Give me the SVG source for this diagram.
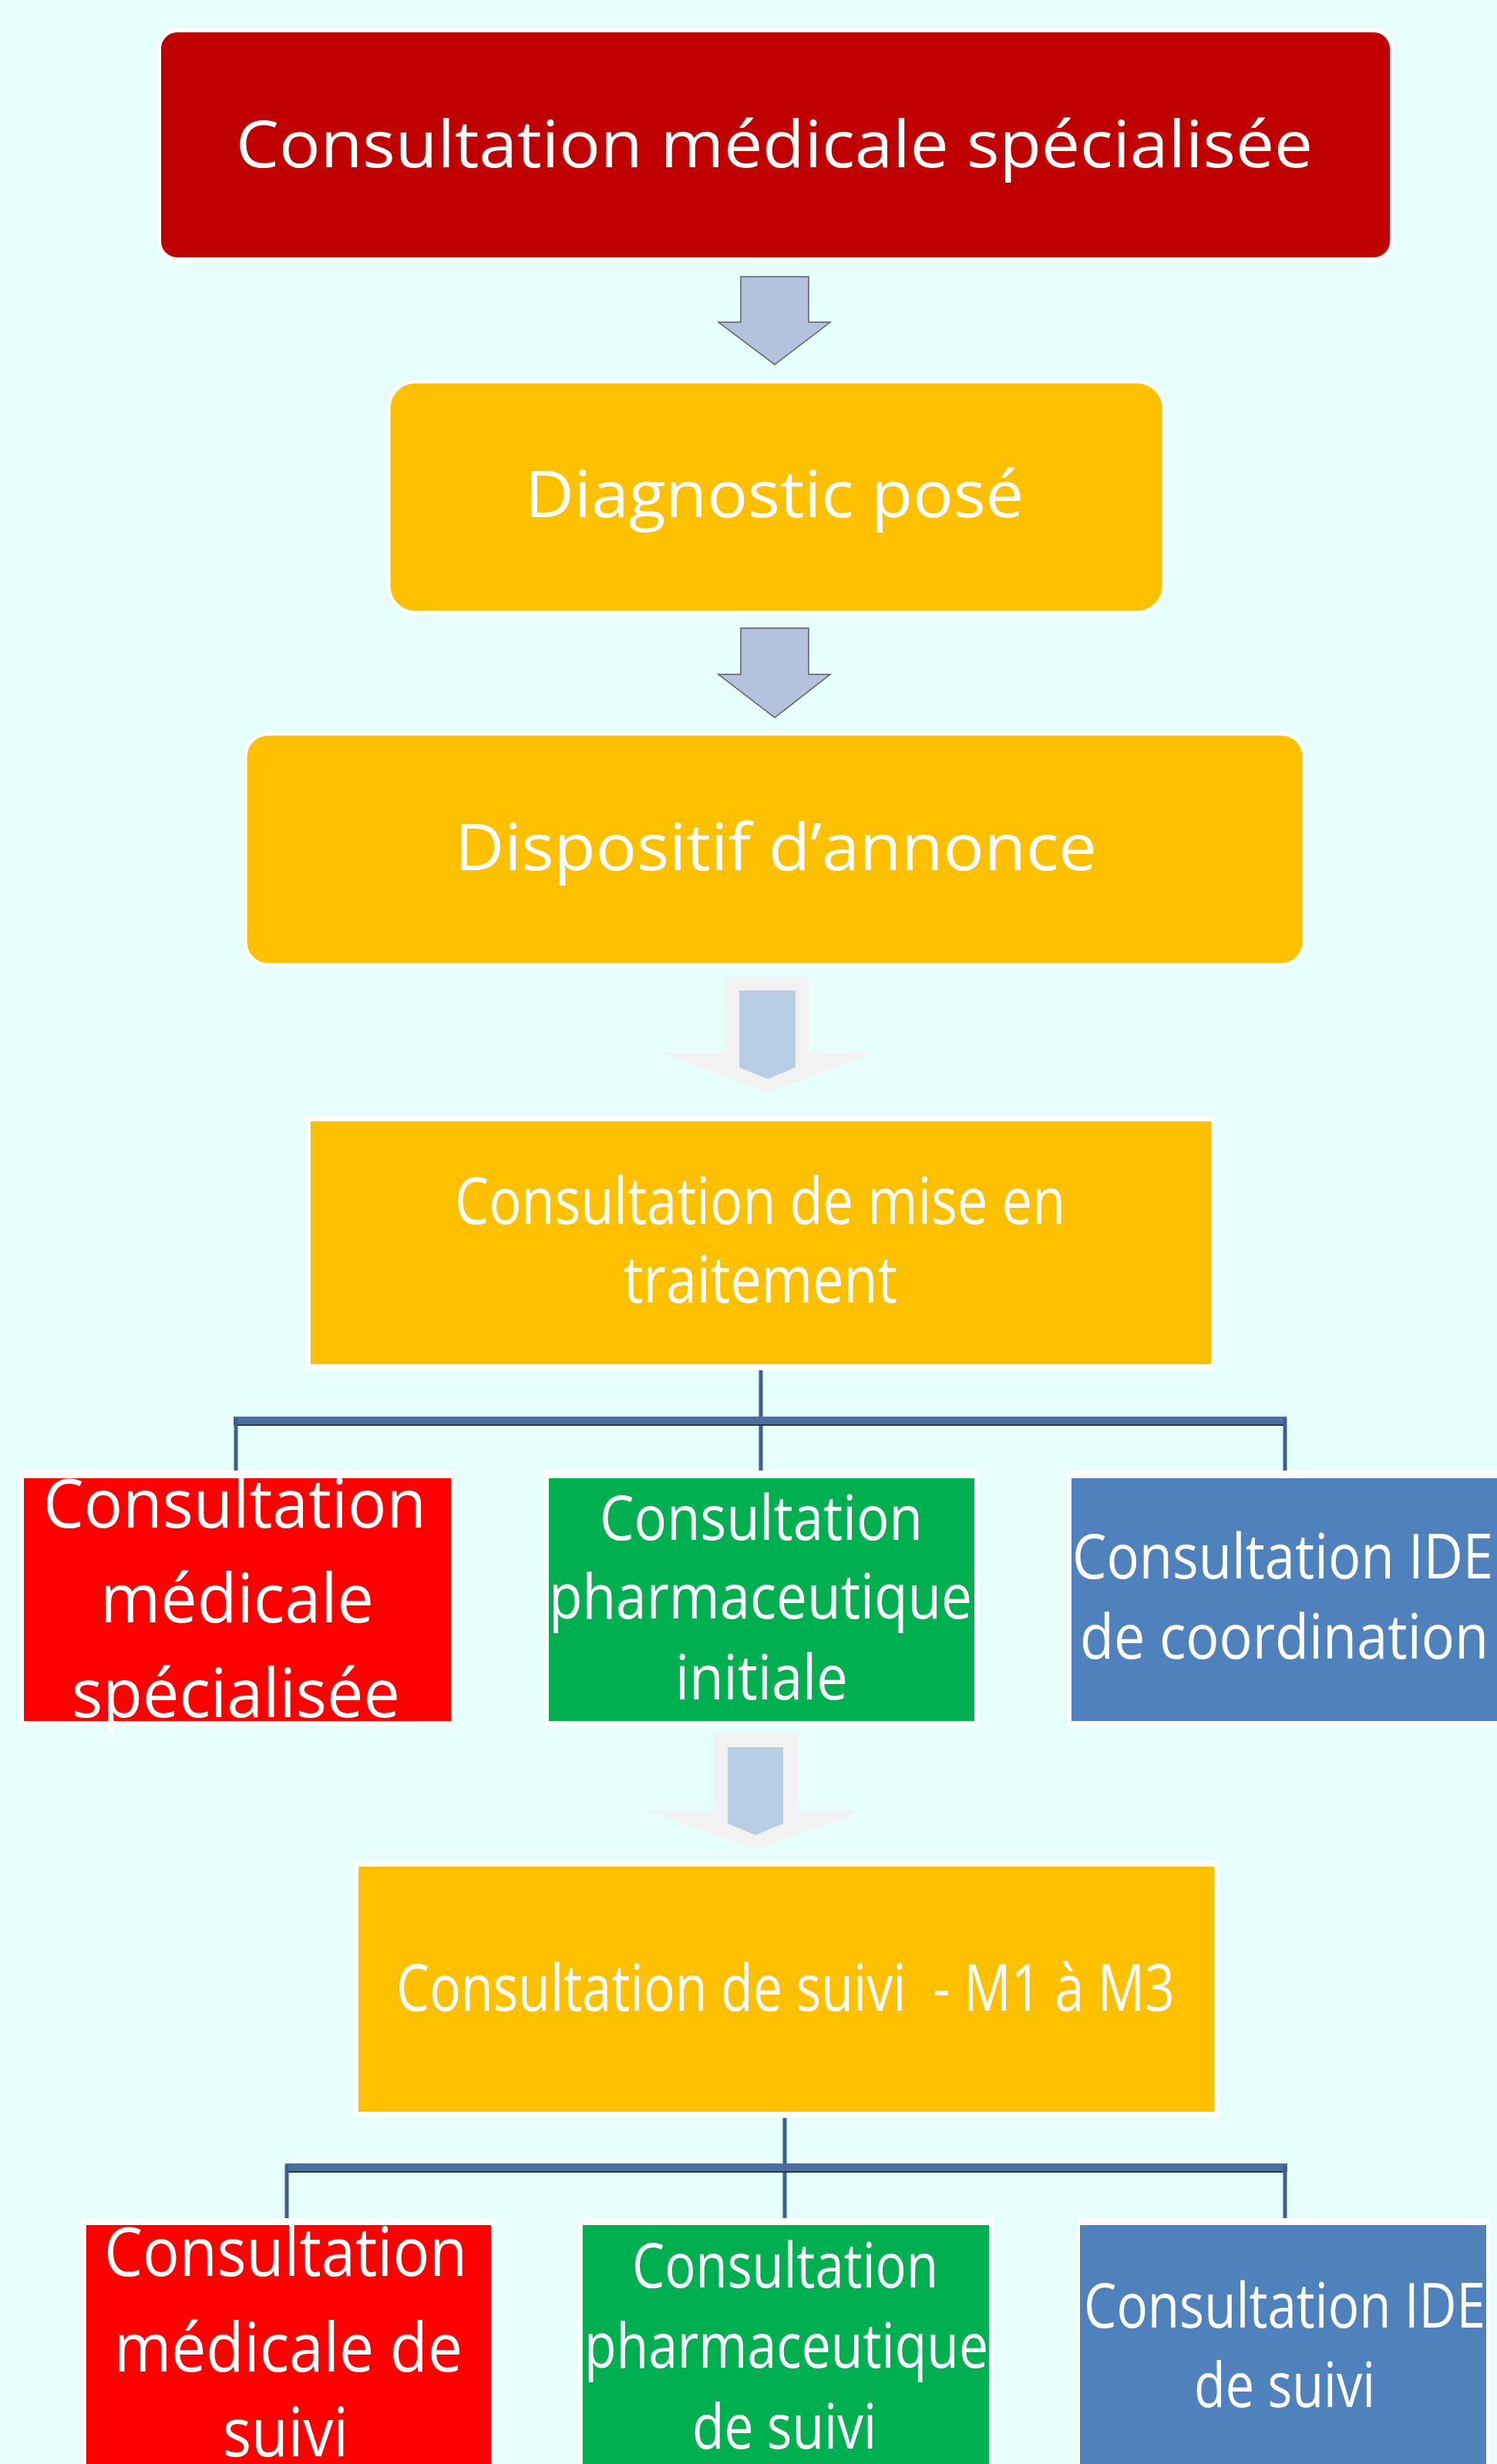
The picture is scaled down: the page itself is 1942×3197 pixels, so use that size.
<svg xmlns="http://www.w3.org/2000/svg" width="1942" height="3197" viewBox="0 0 1942 3197">
<style>
.t{font-family:"Open Sans","Noto Sans","Liberation Sans",sans-serif;fill:#FFFFFF;}
.big{font-size:85px;}
.mid{font-size:88px;}
.sm{font-size:81px;}
.wb{fill:#FFFFFF;}
.org{fill:#FFC000;}
.red{fill:#FF0000;}
.grn{fill:#00B050;}
.blu{fill:#4F81BD;}
.arr{fill:#B4C3DD;stroke:#5E5E5E;stroke-width:1.5;}
.sh{fill:#F2F2F2;}
.ai{fill:#B9CDE5;}
.ln{stroke:#3E5F8E;stroke-width:5;fill:none;}
.bar{fill:#4A6FA0;}
.bare{fill:#26384F;}
</style>
<rect x="0" y="0" width="1942" height="3197" fill="#E6FFFB"/>

<g id="connectors">
  <polygon class="arr" points="961,359 1049,359 1049,418 1077,418 1005,473 932,418 961,418"/>
  <polygon class="arr" points="961,815 1049,815 1049,875 1077,875 1005,931 932,875 961,875"/>
  <polygon class="sh" points="943,1267 1050,1267 1050,1366 1135,1366 996,1417 858,1366 943,1366"/>
  <polygon class="ai" points="959,1285 1032,1285 1032,1385 996,1400 959,1385"/>
  <polygon class="sh" points="927,2249 1035,2249 1035,2349 1119,2349 980,2400 840,2349 927,2349"/>
  <polygon class="ai" points="944,2267 1016,2267 1016,2366 980,2381 944,2366"/>
  <line class="ln" x1="987" y1="1778" x2="987" y2="1908"/>
  <rect class="bar" x="303" y="1838" width="1366" height="11"/>
  <rect class="bare" x="306" y="1848" width="1361" height="2"/>
  <line class="ln" x1="306" y1="1840" x2="306" y2="1908"/>
  <line class="ln" x1="1667" y1="1840" x2="1667" y2="1908"/>
  <line class="ln" x1="1018" y1="2748" x2="1018" y2="2878"/>
  <rect class="bar" x="370" y="2807" width="1300" height="11"/>
  <rect class="bare" x="373" y="2817" width="1294" height="2"/>
  <line class="ln" x1="372" y1="2809" x2="372" y2="2878"/>
  <line class="ln" x1="1667" y1="2809" x2="1667" y2="2878"/>
</g>

<g id="n1">
  <rect x="206" y="39" width="1600" height="298" rx="24" fill="#C00000" stroke="#FFFFFF" stroke-width="6"/>
  <text class="t big" x="306" y="217" textLength="1397" lengthAdjust="spacingAndGlyphs">Consultation médicale spécialisée</text>
</g>

<g id="n2">
  <rect x="504" y="495" width="1006" height="300" rx="35" class="org" stroke="#FFFFFF" stroke-width="5"/>
  <text class="t big" x="681" y="671" textLength="647" lengthAdjust="spacingAndGlyphs">Diagnostic posé</text>
</g>

<g id="n3">
  <rect x="318" y="952" width="1374" height="300" rx="30" class="org" stroke="#FFFFFF" stroke-width="5"/>
  <text class="t big" x="590" y="1129" textLength="833" lengthAdjust="spacingAndGlyphs">Dispositif d’annonce</text>
</g>

<g id="n4">
  <rect class="wb" x="396" y="1448" width="1179" height="330"/>
  <rect class="org" x="403" y="1455" width="1168" height="315"/>
  <text class="t big" x="590" y="1588" textLength="792" lengthAdjust="spacingAndGlyphs">Consultation de mise en</text>
  <text class="t big" x="809" y="1690" textLength="355" lengthAdjust="spacingAndGlyphs">traitement</text>
</g>

<g id="n5">
  <rect class="wb" x="25" y="1908" width="566" height="332"/>
  <rect class="red" x="31" y="1918" width="554" height="315"/>
  <text class="t mid" x="56" y="1982" textLength="497" lengthAdjust="spacingAndGlyphs">Consultation</text>
  <text class="t mid" x="130" y="2105" textLength="355" lengthAdjust="spacingAndGlyphs">médicale</text>
  <text class="t mid" x="93" y="2228" textLength="426" lengthAdjust="spacingAndGlyphs">spécialisée</text>
</g>

<g id="n6">
  <rect class="wb" x="706" y="1908" width="564" height="332"/>
  <rect class="grn" x="712" y="1918" width="552" height="315"/>
  <text class="t sm" x="778" y="1998" textLength="419" lengthAdjust="spacingAndGlyphs">Consultation</text>
  <text class="t sm" x="712" y="2100" textLength="549" lengthAdjust="spacingAndGlyphs">pharmaceutique</text>
  <text class="t sm" x="876" y="2205" textLength="224" lengthAdjust="spacingAndGlyphs">initiale</text>
</g>

<g id="n7">
  <rect class="wb" x="1384" y="1908" width="558" height="332"/>
  <rect class="blu" x="1390" y="1918" width="552" height="315"/>
  <text class="t sm" x="1391" y="2048" textLength="546" lengthAdjust="spacingAndGlyphs">Consultation IDE</text>
  <text class="t sm" x="1401" y="2152" textLength="530" lengthAdjust="spacingAndGlyphs">de coordination</text>
</g>

<g id="n8">
  <rect class="wb" x="458" y="2414" width="1124" height="334"/>
  <rect class="org" x="465" y="2422" width="1110" height="318"/>
  <text class="t big" x="514" y="2609" textLength="1010" lengthAdjust="spacingAndGlyphs" xml:space="preserve">Consultation de suivi  - M1 à M3</text>
</g>

<g id="n9">
  <rect class="wb" x="105" y="2878" width="537" height="319"/>
  <rect class="red" x="112" y="2887" width="525" height="310"/>
  <text class="t mid" x="135" y="2953" textLength="471" lengthAdjust="spacingAndGlyphs">Consultation</text>
  <text class="t mid" x="148" y="3077" textLength="452" lengthAdjust="spacingAndGlyphs">médicale de</text>
  <text class="t mid" x="289" y="3187" textLength="163" lengthAdjust="spacingAndGlyphs">suivi</text>
</g>

<g id="n10">
  <rect class="wb" x="750" y="2878" width="539" height="319"/>
  <rect class="grn" x="756" y="2887" width="527" height="310"/>
  <text class="t sm" x="820" y="2968" textLength="397" lengthAdjust="spacingAndGlyphs">Consultation</text>
  <text class="t sm" x="758" y="3072" textLength="524" lengthAdjust="spacingAndGlyphs">pharmaceutique</text>
  <text class="t sm" x="898" y="3177" textLength="239" lengthAdjust="spacingAndGlyphs">de suivi</text>
</g>

<g id="n11">
  <rect class="wb" x="1397" y="2878" width="536" height="319"/>
  <rect class="blu" x="1401" y="2887" width="527" height="310"/>
  <text class="t sm" x="1406" y="3020" textLength="521" lengthAdjust="spacingAndGlyphs">Consultation IDE</text>
  <text class="t sm" x="1549" y="3123" textLength="235" lengthAdjust="spacingAndGlyphs">de suivi</text>
</g>
</svg>
